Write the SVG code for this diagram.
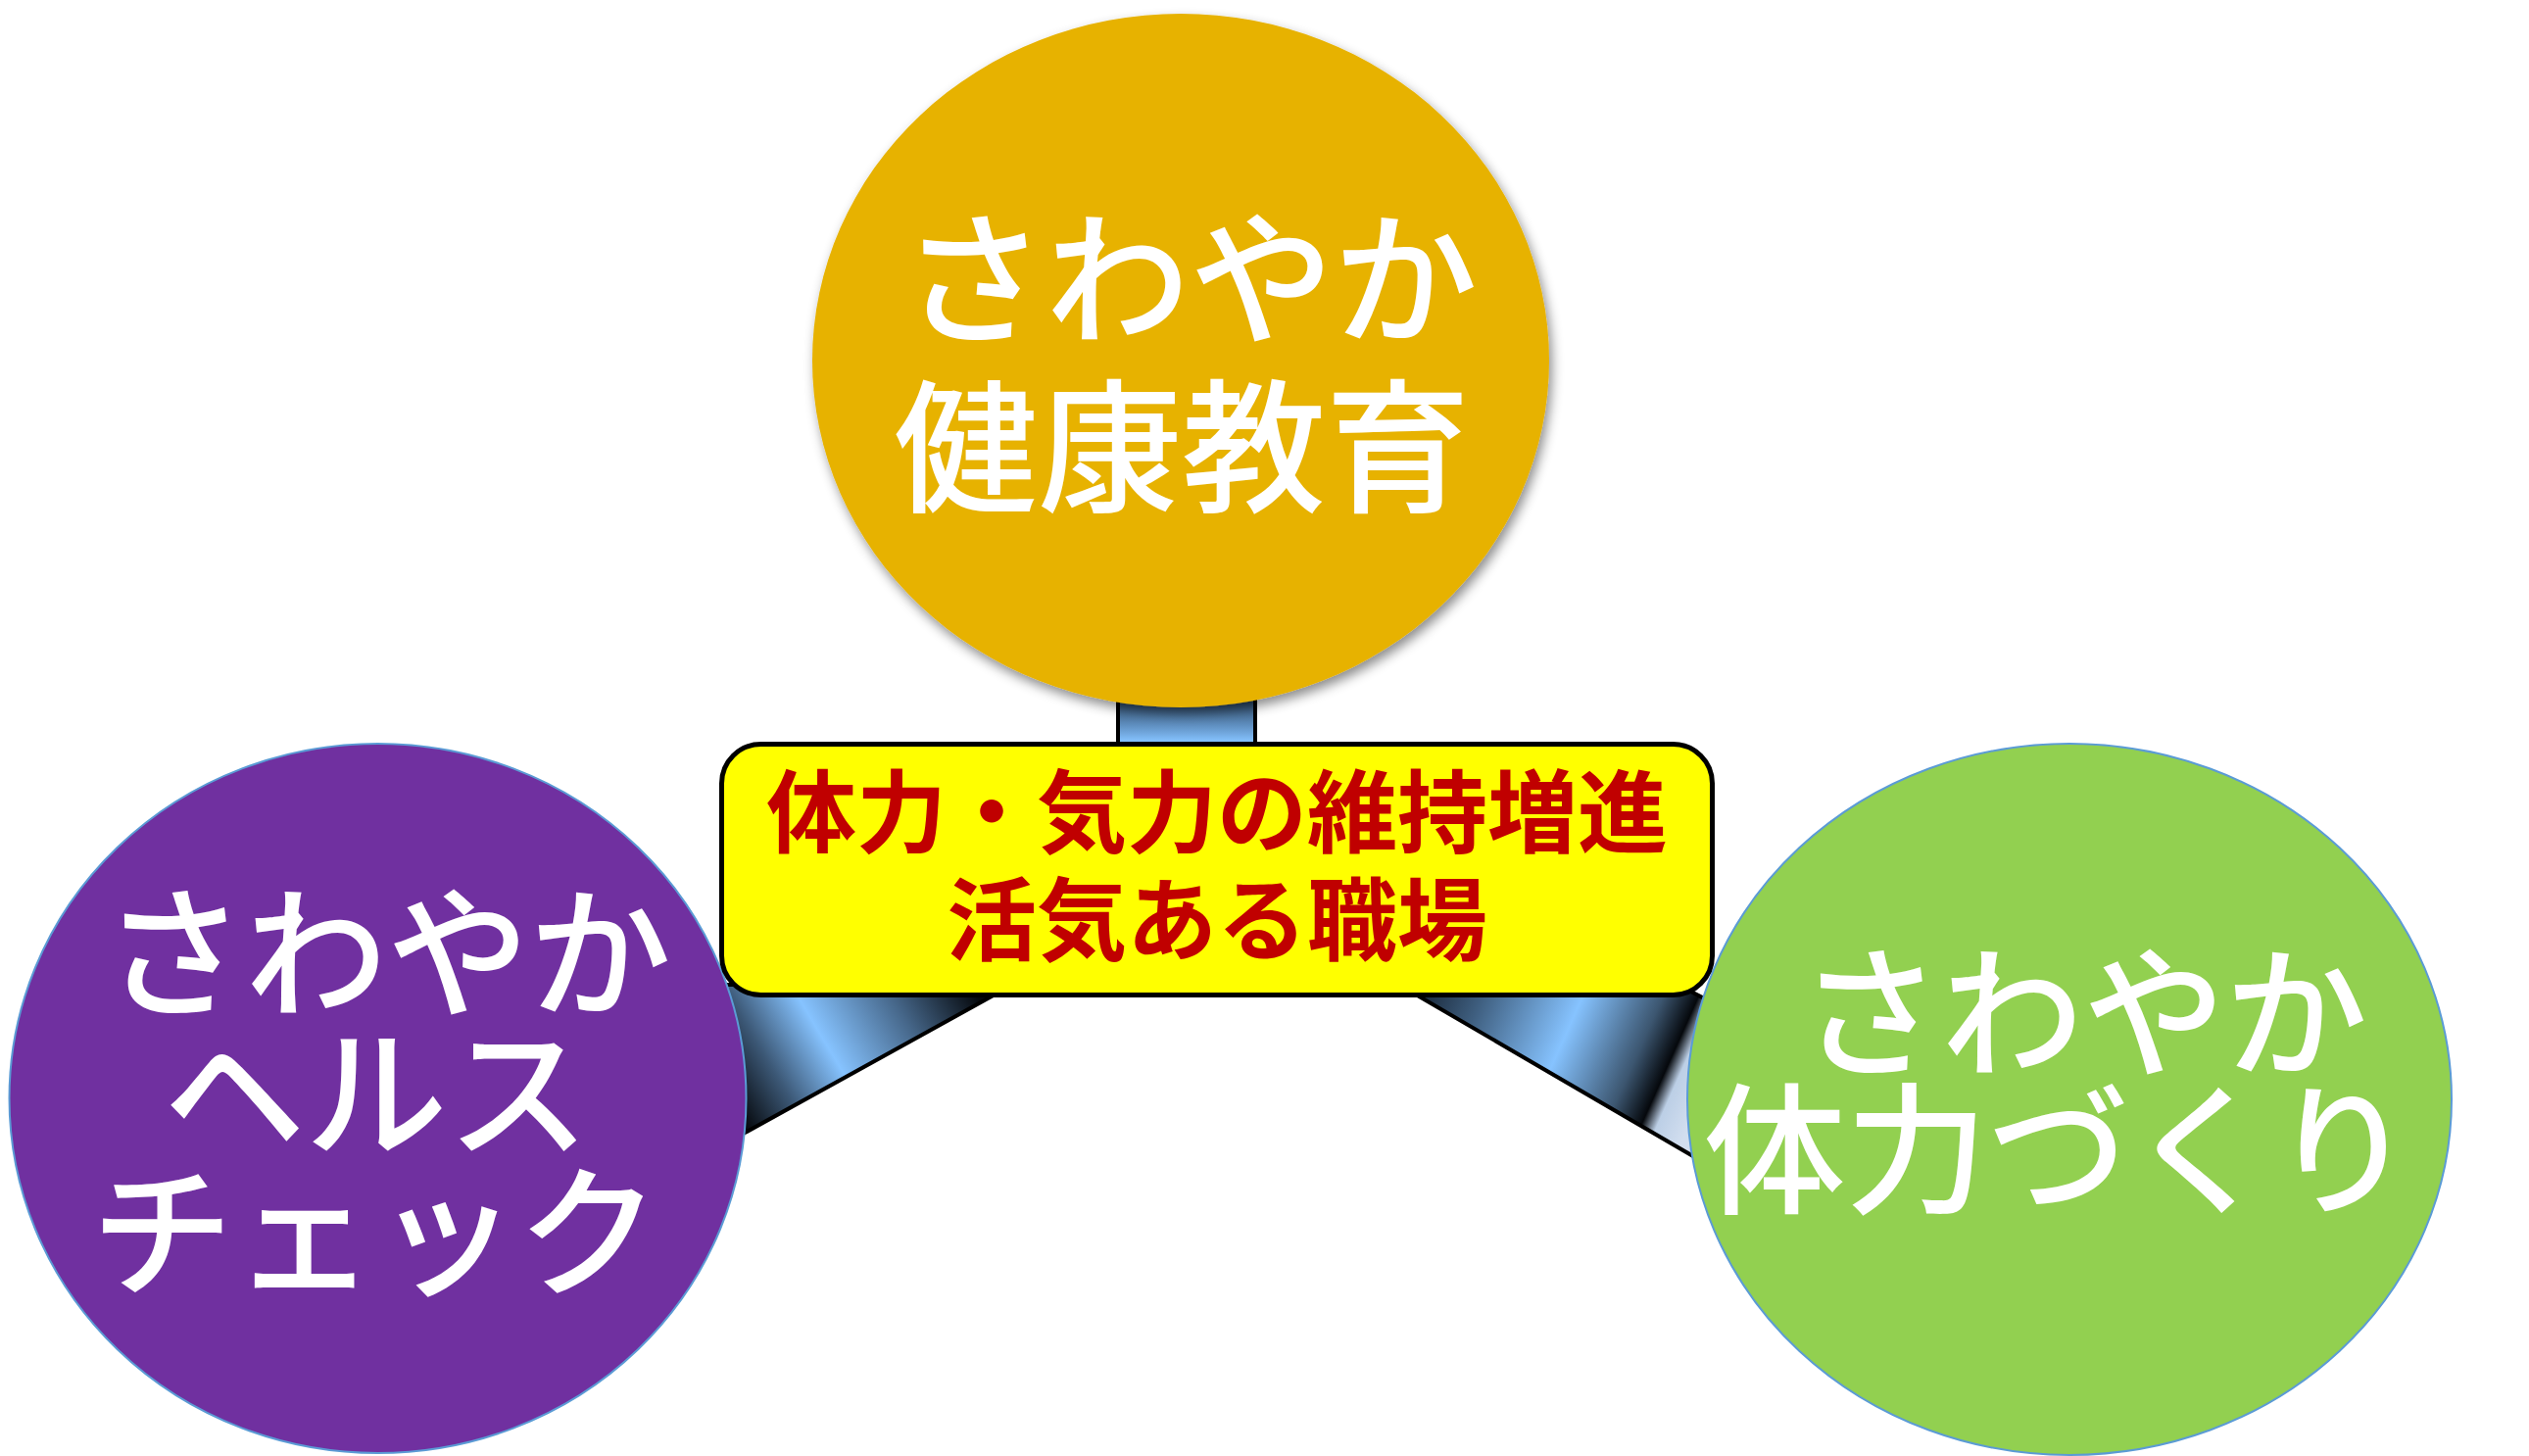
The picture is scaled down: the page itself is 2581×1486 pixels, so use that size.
<svg xmlns="http://www.w3.org/2000/svg" width="2581" height="1486" viewBox="0 0 2581 1486">
<defs>
<style>
.node-text{font-family:"Noto Sans CJK JP","Noto Sans CJK SC",sans-serif;fill:#FFFFFF;text-anchor:middle;font-weight:500;}
.box-text{font-family:"Noto Sans CJK JP","Noto Sans CJK SC",sans-serif;fill:#C00000;font-weight:700;text-anchor:middle;font-size:92px;}
.conn{stroke:#000000;stroke-width:4;stroke-linejoin:round;}
</style>
<filter id="shadow" x="-10%" y="-10%" width="120%" height="125%">
<feDropShadow dx="3" dy="6" stdDeviation="6" flood-color="#000000" flood-opacity="0.45"/>
</filter>
<linearGradient id="gTop" x1="0" y1="715" x2="0" y2="757" gradientUnits="userSpaceOnUse">
<stop offset="0" stop-color="#2c4662"/>
<stop offset="0.6" stop-color="#5f8fc0"/>
<stop offset="1" stop-color="#86c3ff"/>
</linearGradient>
<linearGradient id="gLeft" x1="762" y1="1153" x2="996" y2="1014" gradientUnits="userSpaceOnUse">
<stop offset="0" stop-color="#05080c"/>
<stop offset="0.2" stop-color="#3c5876"/>
<stop offset="0.42" stop-color="#86c3ff"/>
<stop offset="0.72" stop-color="#46678a"/>
<stop offset="1" stop-color="#05080c"/>
</linearGradient>
<linearGradient id="gRight" x1="1453" y1="1020" x2="1727" y2="1142" gradientUnits="userSpaceOnUse">
<stop offset="0" stop-color="#1c2c3e"/>
<stop offset="0.18" stop-color="#3f5f80"/>
<stop offset="0.49" stop-color="#86c3ff"/>
<stop offset="0.74" stop-color="#3c5670"/>
<stop offset="0.85" stop-color="#05080c"/>
<stop offset="0.9" stop-color="#bccfe6"/>
<stop offset="1" stop-color="#d2deef"/>
</linearGradient>
</defs>
<rect x="0" y="0" width="2581" height="1486" fill="#FFFFFF"/>

<g id="connectors">
<rect class="conn" x="1141" y="690" width="140" height="75" fill="url(#gTop)"/>
<polygon class="conn" points="1033.5,1005 700,1189.4 700,1005" fill="url(#gLeft)"/>
<polygon class="conn" points="1427.7,1005 1712,1005 1800,1050 1800,1222" fill="url(#gRight)"/>
</g>

<g id="node-top">
<ellipse cx="1205" cy="368" rx="376" ry="354" fill="#E7B200" filter="url(#shadow)"/>
<text class="node-text" font-size="147"><tspan x="1214" y="339">さわやか</tspan><tspan x="1206" y="511">健康教育</tspan></text>
</g>

<g id="node-left">
<ellipse cx="385.5" cy="1121" rx="376" ry="362" fill="#7030A0" stroke="#5B9BD5" stroke-width="2"/>
<text class="node-text" font-size="145"><tspan x="395" y="1027">さわやか</tspan><tspan x="384" y="1170">ヘルス</tspan><tspan x="383" y="1312">チェック</tspan></text>
</g>

<g id="node-right">
<ellipse cx="2112" cy="1122" rx="390" ry="363" fill="#92D050" stroke="#5B9BD5" stroke-width="2"/>
<text class="node-text" font-size="145"><tspan x="2126" y="1088">さわやか</tspan><tspan x="2101" y="1228">体力づくり</tspan></text>
</g>

<g id="node-center">
<rect x="736.5" y="759.5" width="1011" height="256" rx="40" ry="40" fill="#FFFF00" stroke="#000000" stroke-width="5"/>
<text class="box-text"><tspan x="1242" y="863">体力・気力の維持増進</tspan><tspan x="1242" y="973">活気ある職場</tspan></text>
</g>
</svg>
